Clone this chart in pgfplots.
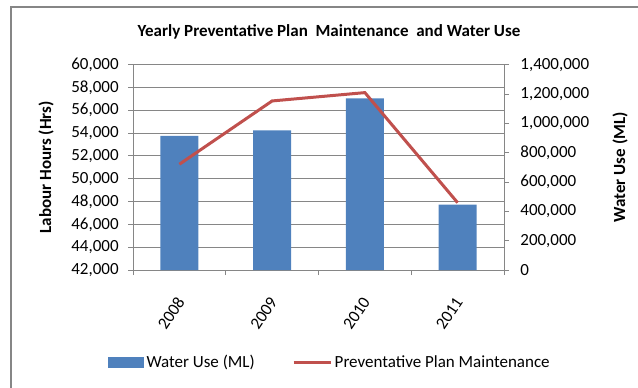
\documentclass[border=0pt]{standalone}
\usepackage{pgfplots}
\pgfplotsset{compat=1.18}
\usepackage{fontspec}
\setmainfont{Carlito}
\definecolor{barblue}{RGB}{79,129,189}
\definecolor{linered}{RGB}{192,80,77}
\definecolor{gridgray}{RGB}{134,134,134}
\pgfplotsset{base/.style={scale only axis, width=278.25pt, height=154pt,
  at={(99.75pt,87.75pt)}, anchor=south west, xmin=-0.5, xmax=3.5,
  font=\fontsize{12.75}{15}\selectfont, scaled y ticks=false,
  /pgf/number format/assume math mode=true, /pgf/number format/1000 sep={,},
  /pgf/number format/fixed, /pgf/number format/precision=0,
  axis line style={gridgray, line width=0.75pt},
  tick style={gridgray, line width=0.75pt},
  tick align=outside, major tick length=3.75pt},
  linelegend/.style={legend image code/.code={\draw[line width=2.25pt, linered] (0pt,0pt) -- (27.75pt,0pt);}},
  barlegend/.style={legend image code/.code={\fill[barblue] (0pt,-3.75pt) rectangle (26.25pt,3.75pt);}}}
\begin{document}
\begin{tikzpicture}[x=0.75pt,y=0.75pt]
\path[use as bounding box] (0,0) rectangle (638,387);
\draw[gridgray, line width=1.2pt] (11,-2) -- (11,380) -- (642,380);
\node[font=\bfseries\fontsize{12.75}{15}\selectfont, anchor=center] at (329,355.3) {Yearly Preventative Plan\ \ Maintenance\ \ and Water Use};
\begin{axis}[base, ymin=42000, ymax=60000, ytick distance=2000,
  ymajorgrids, grid style={gridgray, line width=0.75pt},
  axis y line*=left, axis x line*=bottom,
  xtick={0,1,2,3}, xticklabels={2008,2009,2010,2011},
  minor xtick={-0.5,0.5,1.5,2.5,3.5},
  every major x tick/.append style={draw=none},
  minor tick length=3.75pt,
  xticklabel style={xshift=3pt, yshift=-15pt, rotate=56, anchor=east},
  yticklabel style={xshift=-3.5pt},
  ylabel={\textbf{Labour Hours (Hrs)}},
  ylabel style={at={(axis description cs:-0.2345,0.5)}, anchor=center}]
\addplot[draw=none] coordinates {(0,50000)};
\end{axis}
\begin{axis}[base, ymin=0, ymax=1400000, ytick distance=200000,
  yticklabel style={/pgf/number format/fixed, /pgf/number format/precision=0, xshift=5pt},
  axis y line*=right, axis x line=none,
  ylabel={\textbf{Water Use (ML)}},
  ylabel style={at={(axis description cs:1.3127,0.5)}, anchor=center}]
\addplot[ybar, bar width=28.5pt, fill=barblue, draw=none] coordinates {(0,913800)(1,952600)(2,1170800)(3,445300)};
\end{axis}
\begin{axis}[base, ymin=42000, ymax=60000, hide axis,
  legend style={at={(0.532,-0.4505)}, anchor=center, draw=none, legend columns=2,
    font=\fontsize{12.75}{15}\selectfont, /tikz/every even column/.append style={column sep=26pt}},
  legend cell align=left]
\addlegendimage{barlegend}
\addlegendentry{Water Use (ML)}
\addplot[linered, line width=2.25pt, linelegend] coordinates {(0,51270)(1,56820)(2,57550)(3,47900)};
\addlegendentry{Preventative Plan Maintenance}
\end{axis}
\end{tikzpicture}
\end{document}
